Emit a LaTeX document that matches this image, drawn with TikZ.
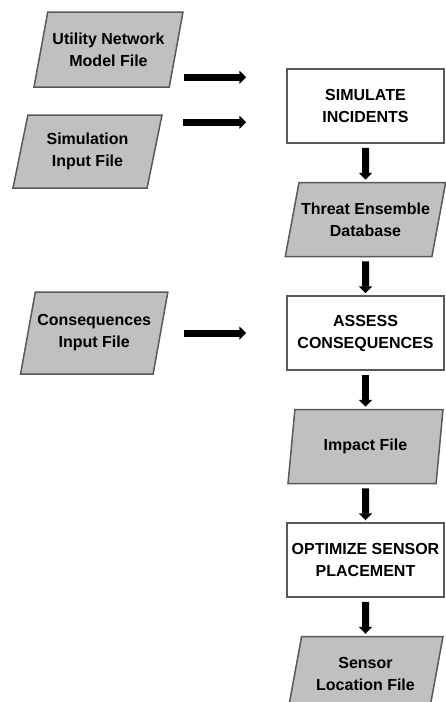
\documentclass[tikz,border=0pt]{standalone}
\usepackage{fontspec}
\setmainfont{Liberation Sans}
\usetikzlibrary{arrows.meta,positioning,shapes.geometric}
\definecolor{fileGray}{HTML}{C0C0C0}
\definecolor{edgeGray}{HTML}{595959}

\begin{document}
\begin{tikzpicture}[
    x=1pt, y=-1pt,
    node distance=38pt,
    font=\fontsize{16}{22}\selectfont\bfseries,
    process/.style={rectangle, draw=edgeGray, line width=1.5pt, fill=white, minimum width=157pt, minimum height=74pt, align=center},
    datafile/.style={trapezium, trapezium left angle=70, trapezium right angle=110, trapezium stretches body=true, draw=edgeGray, line width=1.5pt, fill=fileGray, minimum width=155pt, minimum height=74pt, align=center, inner sep=2pt},
    flow/.style={-{Triangle[length=7pt,width=13pt]}, line width=7pt, black}
]
    \useasboundingbox (0,0) rectangle (446,702);

    % Main column
    \node[process] (sim) at (365.5,106) {SIMULATE\\INCIDENTS};
    \node[datafile, below=of sim] (threat) {Threat Ensemble\\Database};
    \node[process, below=of threat] (ass) {ASSESS\\CONSEQUENCES};
    \node[datafile, below=of ass] (impact) {Impact File};
    \node[process, below=of impact] (opt) {OPTIMIZE SENSOR\\PLACEMENT};
    \node[datafile, below=of opt] (sensor) {Sensor\\Location File};

    % Input files
    \node[datafile, minimum width=149pt, minimum height=75pt] (util) at (108.5,49.5) {Utility Network\\Model File};
    \node[datafile, minimum width=149pt, minimum height=73pt] (siminput) at (87.5,151.5) {Simulation\\Input File};
    \node[datafile, minimum width=147pt, minimum height=82pt, left=125pt of ass] (conseq) {Consequences\\Input File};

    % Flow arrows
    \draw[flow, shorten <=4pt, shorten >=2pt] (sim) -- (threat);
    \draw[flow, shorten <=4pt, shorten >=2pt] (threat) -- (ass);
    \draw[flow, shorten <=4pt, shorten >=2pt] (ass) -- (impact);
    \draw[flow, shorten <=4pt, shorten >=2pt] (impact) -- (opt);
    \draw[flow, shorten <=4pt, shorten >=2pt] (opt) -- (sensor);

    % Input arrows
    \coordinate (in1) at ([yshift=-9pt]sim.north west);
    \coordinate (in2) at ([yshift=-54pt]sim.north west);
    \draw[flow, shorten >=40pt] (util.top right corner |- in1) -- (in1);
    \draw[flow, shorten >=40pt] ([xshift=20pt]siminput.top right corner |- in2) -- (in2);
    \draw[flow, shorten >=40pt] ([xshift=15pt]conseq.top right corner |- ass.west) -- (ass.west);
\end{tikzpicture}
\end{document}
